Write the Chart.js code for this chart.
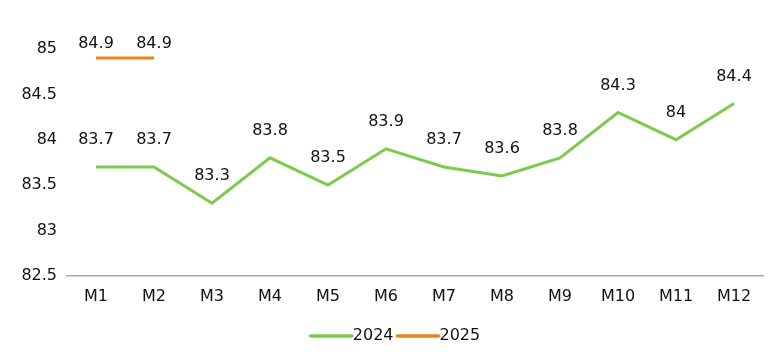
<!DOCTYPE html>
<html>
<head>
<meta charset="utf-8">
<script src="https://cdn.jsdelivr.net/npm/chart.js@4"></script>
<style>
html,body{margin:0;padding:0;background:#fff;}
#wrap{width:775px;height:361px;}
</style>
</head>
<body>
<div id="wrap"><canvas id="c" width="775" height="361"></canvas></div>
<script>
const categories = ['M1','M2','M3','M4','M5','M6','M7','M8','M9','M10','M11','M12'];
const series2024 = [83.7,83.7,83.3,83.8,83.5,83.9,83.7,83.6,83.8,84.3,84,84.4];
const series2025 = [84.9,84.9,null,null,null,null,null,null,null,null,null,null];
const yTicks = [82.5,83,83.5,84,84.5,85];

const FONT = '"DejaVu Sans", sans-serif';
const FS = 16;

const valueLabels = {
  id: 'valueLabels',
  afterDatasetsDraw(chart) {
    const ctx = chart.ctx;
    ctx.save();
    ctx.font = FS + 'px ' + FONT;
    ctx.fillStyle = '#111';
    ctx.textAlign = 'center';
    ctx.textBaseline = 'middle';
    chart.data.datasets.forEach((ds, i) => {
      const meta = chart.getDatasetMeta(i);
      meta.data.forEach((pt, j) => {
        const v = ds.data[j];
        if (v === null || v === undefined) return;
        let y = pt.y - 27;
        if (y < 44) y = 44;
        ctx.fillText(String(v), pt.x, y);
      });
    });
    ctx.restore();
  }
};

const lineLegend = {
  id: 'lineLegend',
  afterDraw(chart) {
    const ctx = chart.ctx;
    ctx.save();
    ctx.font = FS + 'px ' + FONT;
    ctx.textBaseline = 'middle';
    ctx.textAlign = 'left';
    const lineLen = 43, gap = 3, y = 336;
    const items = chart.data.datasets.map(ds => ({ text: ds.label, color: ds.borderColor, w: ctx.measureText(ds.label).width }));
    const total = items.reduce((s, it) => s + lineLen + it.w, 0) + gap * (items.length - 1);
    let x = 395 - total / 2;
    items.forEach(it => {
      ctx.strokeStyle = it.color;
      ctx.lineWidth = 3.5;
      ctx.lineCap = 'round';
      ctx.beginPath();
      ctx.moveTo(x + 1, y);
      ctx.lineTo(x + lineLen - 1, y);
      ctx.stroke();
      x += lineLen;
      ctx.fillStyle = '#111';
      ctx.fillText(it.text, x, y);
      x += it.w + gap;
    });
    ctx.restore();
  }
};

new Chart(document.getElementById('c'), {
  type: 'line',
  data: {
    labels: categories,
    datasets: [
      { label: '2024', data: series2024, borderColor: '#7DCB4C', backgroundColor: '#7DCB4C', borderWidth: 3, pointRadius: 0, tension: 0 },
      { label: '2025', data: series2025, borderColor: '#EE8420', backgroundColor: '#EE8420', borderWidth: 3, pointRadius: 0, tension: 0 }
    ]
  },
  options: {
    responsive: false,
    animation: false,
    layout: { padding: { left: 0, right: 12, top: 49, bottom: 44 } },
    plugins: {
      legend: { display: false },
      tooltip: { enabled: false }
    },
    scales: {
      x: {
        offset: true,
        grid: { display: false, drawTicks: false },
        border: { display: true, color: '#A6A6A6', width: 1.5 },
        ticks: { font: { family: FONT, size: FS }, color: '#111', padding: 11 }
      },
      y: {
        min: 82.5,
        max: 85,
        afterBuildTicks(axis) { axis.ticks = yTicks.map(v => ({ value: v })); },
        afterFit(axis) { axis.width = 67; },
        grid: { display: false, drawTicks: false },
        border: { display: false },
        ticks: { font: { family: FONT, size: FS }, color: '#111', padding: 10, callback: v => String(v) }
      }
    }
  },
  plugins: [valueLabels, lineLegend]
});
</script>
</body>
</html>
